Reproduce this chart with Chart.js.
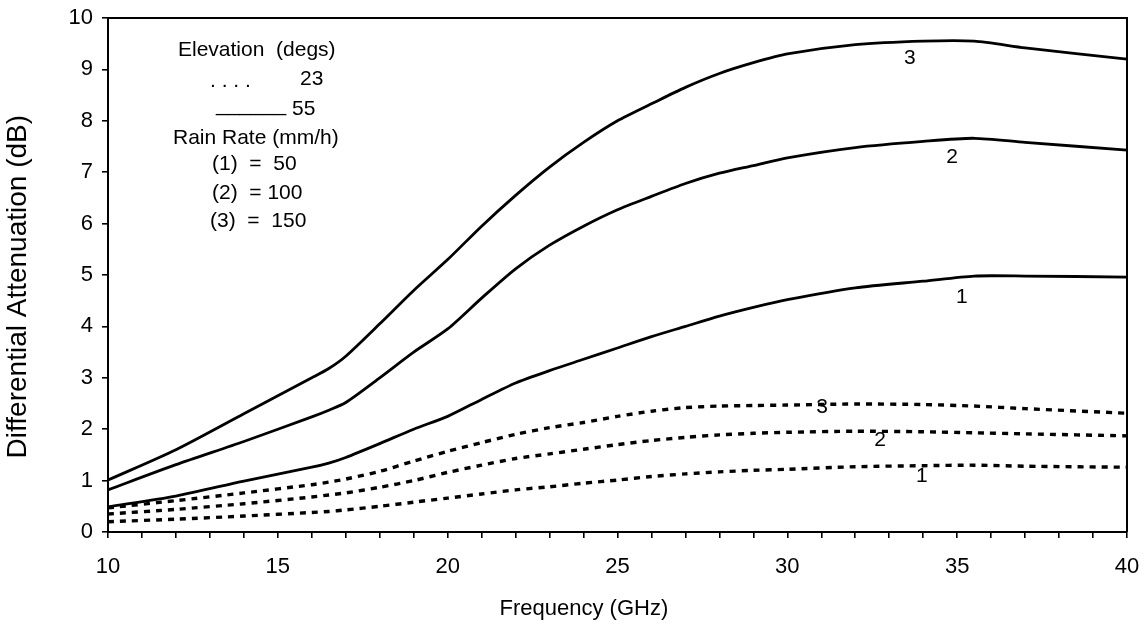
<!DOCTYPE html>
<html>
<head>
<meta charset="utf-8">
<script src="https://cdn.jsdelivr.net/npm/chart.js@4.4.1/dist/chart.umd.min.js"></script>
<style>
  html, body { margin: 0; padding: 0; background: #ffffff; }
  #wrap { width: 1144px; height: 625px; position: relative; }
</style>
</head>
<body>
<div id="wrap"><canvas id="c" width="1144" height="625"></canvas></div>
<script>
// ---- Data ----
const frequencyGHz = [10, 12, 14, 16, 16.5, 17, 18, 19, 20, 21, 22, 23, 24, 25, 26, 27, 28, 29, 30, 32, 34, 35.5, 37, 40];

// Elevation 55 deg (solid)
const solid50  = [0.49, 0.70, 0.99, 1.26, 1.34, 1.45, 1.72, 2.00, 2.25, 2.58, 2.90, 3.14, 3.36, 3.58, 3.80, 4.00, 4.20, 4.37, 4.52, 4.75, 4.88, 4.98, 4.98, 4.96];
const solid100 = [0.82, 1.31, 1.76, 2.24, 2.37, 2.52, 3.00, 3.50, 3.95, 4.55, 5.12, 5.58, 5.95, 6.27, 6.53, 6.78, 6.98, 7.13, 7.28, 7.48, 7.60, 7.66, 7.58, 7.43];
const solid150 = [1.01, 1.60, 2.30, 3.00, 3.18, 3.42, 4.05, 4.70, 5.30, 5.95, 6.55, 7.10, 7.58, 8.00, 8.33, 8.65, 8.92, 9.13, 9.30, 9.48, 9.55, 9.55, 9.42, 9.20];

// Elevation 23 deg (dotted)
const dotted50  = [0.20, 0.25, 0.31, 0.38, 0.40, 0.43, 0.50, 0.58, 0.66, 0.74, 0.82, 0.88, 0.95, 1.01, 1.08, 1.13, 1.17, 1.20, 1.22, 1.27, 1.29, 1.30, 1.28, 1.26];
const dotted100 = [0.35, 0.44, 0.55, 0.68, 0.72, 0.76, 0.87, 1.00, 1.16, 1.30, 1.43, 1.52, 1.61, 1.70, 1.78, 1.84, 1.89, 1.92, 1.94, 1.96, 1.95, 1.93, 1.91, 1.87];
const dotted150 = [0.47, 0.61, 0.76, 0.92, 0.97, 1.03, 1.18, 1.38, 1.57, 1.74, 1.90, 2.03, 2.13, 2.25, 2.35, 2.42, 2.45, 2.46, 2.47, 2.49, 2.48, 2.45, 2.40, 2.31];

// Curve number labels (data coordinates)
const curveLabelText = ['3', '2', '1', '3', '2', '1'];
const curveLabelX    = [33.61, 34.85, 35.14, 31.02, 32.73, 33.96];
const curveLabelY    = [9.22, 7.30, 4.57, 2.43, 1.79, 1.09];

// Key text block
const keyLines = ['Elevation  (degs)', '. . . .', '23', '______', '55', 'Rain Rate (mm/h)', '(1)  =  50', '(2)  = 100', '(3)  =  150'];

const xMin = 10, xMax = 40, yMin = 0, yMax = 10;
// trailing spaces shift the centred titles to where the reference places them
const xTitle = 'Frequency (GHz)' + ' '.repeat(11);
const yTitle = 'Differential Attenuation (dB)' + ' '.repeat(3);

function pts(ys) { return frequencyGHz.map((f, i) => ({ x: f, y: ys[i] })); }

const FONT = '"Liberation Sans", Arial, sans-serif';

const solidStyle = { borderColor: '#000', borderWidth: 2.8, pointRadius: 0, tension: 0.25, fill: false };
const dotStyle = { borderColor: '#000', borderWidth: 3.4, borderDash: [6, 6], pointRadius: 0, tension: 0.25, fill: false };

const frameAndText = {
  id: 'frameAndText',
  afterDraw(chart) {
    const { ctx, chartArea: a, scales } = chart;
    ctx.save();
    // top and right frame
    ctx.strokeStyle = '#000';
    ctx.lineWidth = 2;
    ctx.beginPath();
    ctx.moveTo(a.left, a.top);
    ctx.lineTo(a.right, a.top);
    ctx.lineTo(a.right, a.bottom);
    ctx.stroke();

    // curve labels
    ctx.fillStyle = '#000';
    ctx.font = '21px ' + FONT;
    ctx.textAlign = 'center';
    ctx.textBaseline = 'middle';
    curveLabelText.forEach((t, i) => {
      ctx.fillText(t, scales.x.getPixelForValue(curveLabelX[i]), scales.y.getPixelForValue(curveLabelY[i]));
    });

    // key block (offsets from chart area's top-left)
    ctx.textAlign = 'left';
    ctx.textBaseline = 'middle';
    const L = a.left, T = a.top;
    const pos = [
      [70, 32], [102, 63], [192, 61], [108, 87], [184, 91], [65, 120], [104, 146], [104, 175], [102, 203]
    ];
    keyLines.forEach((t, i) => {
      ctx.fillText(t, L + pos[i][0], T + pos[i][1]);
    });
    ctx.restore();
  }
};

new Chart(document.getElementById('c'), {
  type: 'line',
  data: {
    datasets: [
      Object.assign({ label: '55 deg, 50 mm/h', data: pts(solid50) }, solidStyle),
      Object.assign({ label: '55 deg, 100 mm/h', data: pts(solid100) }, solidStyle),
      Object.assign({ label: '55 deg, 150 mm/h', data: pts(solid150) }, solidStyle),
      Object.assign({ label: '23 deg, 50 mm/h', data: pts(dotted50) }, dotStyle),
      Object.assign({ label: '23 deg, 100 mm/h', data: pts(dotted100) }, dotStyle),
      Object.assign({ label: '23 deg, 150 mm/h', data: pts(dotted150) }, dotStyle)
    ]
  },
  options: {
    responsive: false,
    animation: false,
    devicePixelRatio: 1,
    layout: { padding: { left: 0, top: 18, right: 17, bottom: 0 } },
    plugins: { legend: { display: false }, tooltip: { enabled: false } },
    scales: {
      x: {
        type: 'linear',
        min: xMin, max: xMax,
        afterFit(s) { s.height = 93; s.paddingLeft = 0; s.paddingRight = 0; },
        border: { display: true, color: '#000', width: 2 },
        grid: { drawOnChartArea: false, drawTicks: true, tickLength: 6, color: '#000', lineWidth: 1.6 },
        ticks: {
          stepSize: 1, autoSkip: false, maxRotation: 0, color: '#000', padding: 16,
          font: { family: FONT, size: 22 },
          callback: (v) => (v % 5 === 0 ? String(v) : '')
        },
        title: { display: true, text: xTitle, color: '#000', font: { family: FONT, size: 22 }, padding: { top: 4, bottom: 3 } }
      },
      y: {
        type: 'linear',
        min: yMin, max: yMax,
        afterFit(s) { s.width = 108; s.paddingTop = 0; s.paddingBottom = 0; },
        border: { display: true, color: '#000', width: 2 },
        grid: { drawOnChartArea: false, drawTicks: true, tickLength: 6, color: '#000', lineWidth: 1.6 },
        ticks: { stepSize: 1, color: '#000', padding: 9, font: { family: FONT, size: 22 } },
        title: { display: true, text: yTitle, color: '#000', font: { family: FONT, size: 28 }, padding: { top: 1, bottom: 4 } }
      }
    }
  },
  plugins: [frameAndText]
});
</script>
</body>
</html>
